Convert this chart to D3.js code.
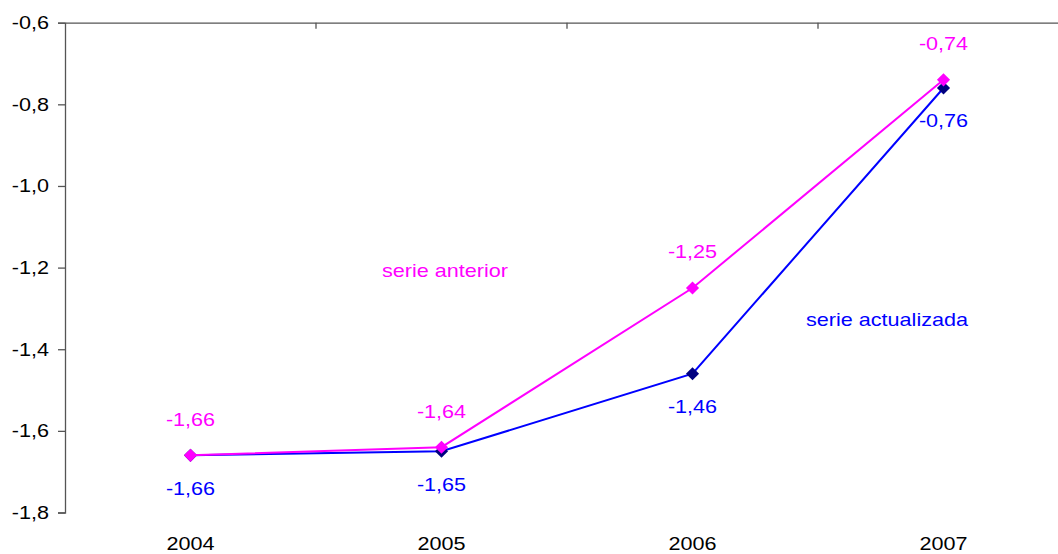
<!DOCTYPE html>
<html>
<head>
<meta charset="utf-8">
<script src="https://cdn.jsdelivr.net/npm/d3@7"></script>
<style>
  body { margin: 0; background: #fff; }
  svg { display: block; }
  text { font-family: "Liberation Sans", Arial, sans-serif; font-size: 18px; }
</style>
</head>
<body>
<script>
var width = 1058, height = 554;

// data
var years = ["2004", "2005", "2006", "2007"];
var serieAnterior = [-1.66, -1.64, -1.25, -0.74];
var serieActualizada = [-1.66, -1.65, -1.46, -0.76];
var yTicks = [-1.8, -1.6, -1.4, -1.2, -1.0, -0.8, -0.6];

var pink = "#ff00ff", blue = "#0000ff", navy = "#000080", axisColor = "#555";
var sx = 1.2; // text in the picture is stretched horizontally

var svg = d3.select("body").append("svg")
    .attr("width", width)
    .attr("height", height);

var x = d3.scaleBand().domain(years).range([65, 1069]);
var y = d3.scaleLinear().domain([-1.8, -0.6]).range([512.5, 22.7]);
var cx = function(d){ return x(d) + x.bandwidth() / 2; };

var locale = d3.formatLocale({ decimal: ",", thousands: ".", grouping: [3], currency: ["", " €"], minus: "-" });
var fmt = locale.format(".2f");
var fmt1 = locale.format(".1f");

function label(g, tx, ty, txt, color, anchor) {
    return g.append("text")
        .attr("transform", "translate(" + tx + "," + ty + ") scale(" + sx + ",1)")
        .attr("text-anchor", anchor || "middle")
        .attr("dominant-baseline", "central")
        .style("fill", color)
        .text(txt);
}

// y axis
var yAxis = svg.append("g")
    .attr("transform", "translate(65,0)")
    .call(d3.axisLeft(y).tickValues(yTicks).tickSize(7).tickFormat(fmt1));
yAxis.select(".domain").attr("stroke", axisColor).attr("stroke-width", 1.3);
yAxis.selectAll(".tick line").attr("stroke", axisColor).attr("stroke-width", 1.3);
yAxis.selectAll(".tick text").remove();
yTicks.forEach(function(t){
    label(svg, 49, y(t), fmt1(t), "#000", "end");
});

// category axis at the top (crosses at -0,6)
var xAxis = svg.append("g")
    .attr("transform", "translate(0," + y(-0.6) + ")")
    .call(d3.axisBottom(x).tickSize(0).tickFormat(""));
xAxis.select(".domain").attr("stroke", axisColor).attr("stroke-width", 1.3);
xAxis.selectAll(".tick").remove();
xAxis.selectAll(".bound")
    .data(years.slice(1))
    .enter().append("line")
    .attr("x1", function(d){ return x(d); })
    .attr("x2", function(d){ return x(d); })
    .attr("y1", 0).attr("y2", 6)
    .attr("stroke", axisColor).attr("stroke-width", 1.3);

// category labels at the bottom
years.forEach(function(c){
    label(svg, cx(c), 544, c, "#000");
});

var line = d3.line()
    .x(function(d, i){ return cx(years[i]); })
    .y(function(d){ return y(d); });

var diamond = d3.symbol().type(d3.symbolDiamond2).size(110);

function drawSeries(vals, lineColor, markerColor, dy) {
    var g = svg.append("g");
    g.append("path")
        .datum(vals)
        .attr("d", line)
        .attr("fill", "none")
        .attr("stroke", lineColor)
        .attr("stroke-width", 2);
    g.selectAll(".m")
        .data(vals)
        .enter().append("path")
        .attr("d", diamond)
        .attr("transform", function(d, i){ return "translate(" + cx(years[i]) + "," + y(d) + ")"; })
        .attr("fill", markerColor);
    vals.forEach(function(v, i){
        label(g, cx(years[i]), y(v) + dy, fmt(v), lineColor);
    });
}

drawSeries(serieActualizada, blue, navy, 33);
drawSeries(serieAnterior, pink, pink, -36);

label(svg, 445, 271, "serie anterior", pink);
label(svg, 887, 320, "serie actualizada", blue);
</script>
</body>
</html>
